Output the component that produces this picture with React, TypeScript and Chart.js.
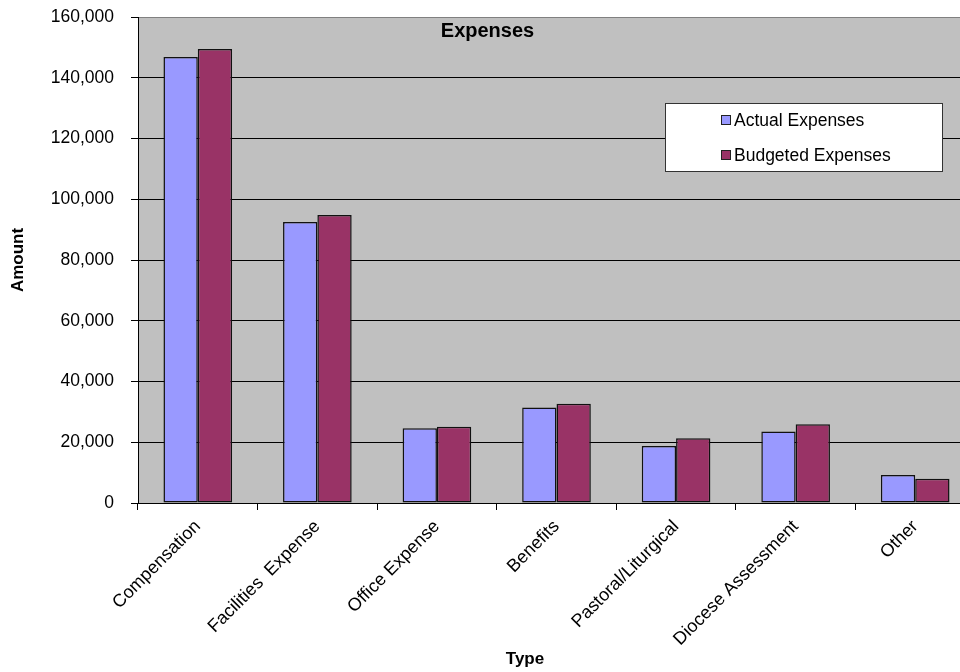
import React, { useEffect, useRef } from "react";
import { Chart, registerables } from "chart.js";

Chart.register(...registerables);

const categories = [
  "Compensation",
  "Facilities  Expense",
  "Office Expense",
  "Benefits",
  "Pastoral/Liturgical",
  "Diocese Assessment",
  "Other",
];
const actualExpenses = [146800, 92500, 24600, 31400, 18800, 23500, 9200];
const budgetedExpenses = [149500, 94800, 25100, 32700, 21300, 25900, 8000];
const seriesLabels = ["Actual Expenses", "Budgeted Expenses"];
const seriesColors = ["#9999ff", "#993366"];
const chartTitle = "Expenses";
const yTitle = "Amount";
const xTitle = "Type";

const FONT = "'Liberation Sans', Arial, sans-serif";

const decorPlugin = {
  id: "decor",
  beforeDraw(chart: any) {
    const { ctx, chartArea } = chart;
    ctx.save();
    ctx.fillStyle = "#c0c0c0";
    ctx.fillRect(chartArea.left, chartArea.top, chartArea.right - chartArea.left, chartArea.bottom - chartArea.top);
    ctx.restore();
  },
  afterDraw(chart: any) {
    const { ctx, chartArea } = chart;
    ctx.save();
    // title
    ctx.fillStyle = "#000";
    ctx.font = `bold 20px ${FONT}`;
    ctx.textAlign = "center";
    ctx.textBaseline = "middle";
    ctx.fillText(chartTitle, chart.width / 2, chartArea.top + 14);
    // x axis title
    ctx.font = `bold 17px ${FONT}`;
    ctx.fillText(xTitle, chartArea.left + 387, chart.height - 13);
    // legend
    const bx = chartArea.left + 527;
    const by = chartArea.top + 86;
    const bw = 277;
    const bh = 68;
    ctx.fillStyle = "#fff";
    ctx.fillRect(bx, by, bw, bh);
    ctx.strokeStyle = "#333";
    ctx.lineWidth = 1;
    ctx.strokeRect(bx + 0.5, by + 0.5, bw, bh);
    ctx.font = `17.5px ${FONT}`;
    ctx.textAlign = "left";
    chart.data.datasets.forEach((ds: any, i: number) => {
      const cy = by + 17 + i * 35;
      ctx.fillStyle = ds.backgroundColor;
      ctx.fillRect(bx + 56, cy - 4.5, 9, 9);
      ctx.strokeStyle = "#222";
      ctx.strokeRect(bx + 56.5, cy - 4.5, 9, 9);
      ctx.fillStyle = "#000";
      ctx.fillText(ds.label, bx + 69, cy + 1);
    });
    ctx.restore();
  },
};

export default function App() {
  const ref = useRef<HTMLCanvasElement>(null);
  useEffect(() => {
    if (!ref.current) return;
    const chart = new Chart(ref.current, {
      type: "bar",
      data: {
        labels: categories,
        datasets: [
          {
            label: seriesLabels[0],
            data: actualExpenses,
            backgroundColor: seriesColors[0],
            borderColor: "#111",
            borderWidth: 1.5,
            borderSkipped: false,
            categoryPercentage: 0.574,
            barPercentage: 1,
          },
          {
            label: seriesLabels[1],
            data: budgetedExpenses,
            backgroundColor: seriesColors[1],
            borderColor: "#111",
            borderWidth: 1.5,
            borderSkipped: false,
            categoryPercentage: 0.574,
            barPercentage: 1,
          },
        ],
      },
      plugins: [decorPlugin],
      options: {
        animation: false,
        responsive: true,
        maintainAspectRatio: false,
        layout: { padding: { top: 17, left: 8, right: 0, bottom: 2 } },
        plugins: {
          legend: { display: false },
          title: { display: false },
          tooltip: { enabled: false },
        },
        scales: {
          x: {
            afterFit: (s: any) => {
              s.height = 167;
            },
            grid: {
              display: true,
              drawOnChartArea: false,
              drawTicks: true,
              tickLength: 7,
              color: "#000",
              offset: true,
            },
            border: { display: true, color: "#000", width: 1 },
            ticks: {
              color: "#000",
              font: { family: FONT, size: 18 },
              maxRotation: 45,
              minRotation: 45,
              padding: 6,
              autoSkip: false,
            },
            title: { display: false, text: xTitle },
          },
          y: {
            afterFit: (s: any) => {
              s.width = 130;
              s.paddingTop = 0;
              s.paddingBottom = 0;
            },
            min: 0,
            max: 160000,
            ticks: {
              stepSize: 20000,
              color: "#000",
              font: { family: FONT, size: 17.5 },
              padding: 17,
              callback: (v: any) => Number(v).toLocaleString("en-US"),
            },
            grid: {
              color: (c: any) => (c.tick && c.tick.value === 160000 ? "#808080" : "#000"),
              tickColor: "#000",
              drawTicks: true,
              tickLength: 7,
              lineWidth: 1,
            },
            border: { display: true, color: "#000", width: 1 },
            title: {
              display: true,
              text: yTitle,
              color: "#000",
              font: { family: FONT, size: 17, weight: "bold" },
              padding: { top: 0, bottom: 8 },
            },
          },
        },
      },
    });
    return () => chart.destroy();
  }, []);
  return (
    <div style={{ position: "fixed", left: 0, top: 0, width: 960, height: 672, overflow: "hidden", background: "#fff" }}>
      <div style={{ position: "relative", width: 975, height: 672 }}>
        <canvas ref={ref} />
      </div>
    </div>
  );
}
